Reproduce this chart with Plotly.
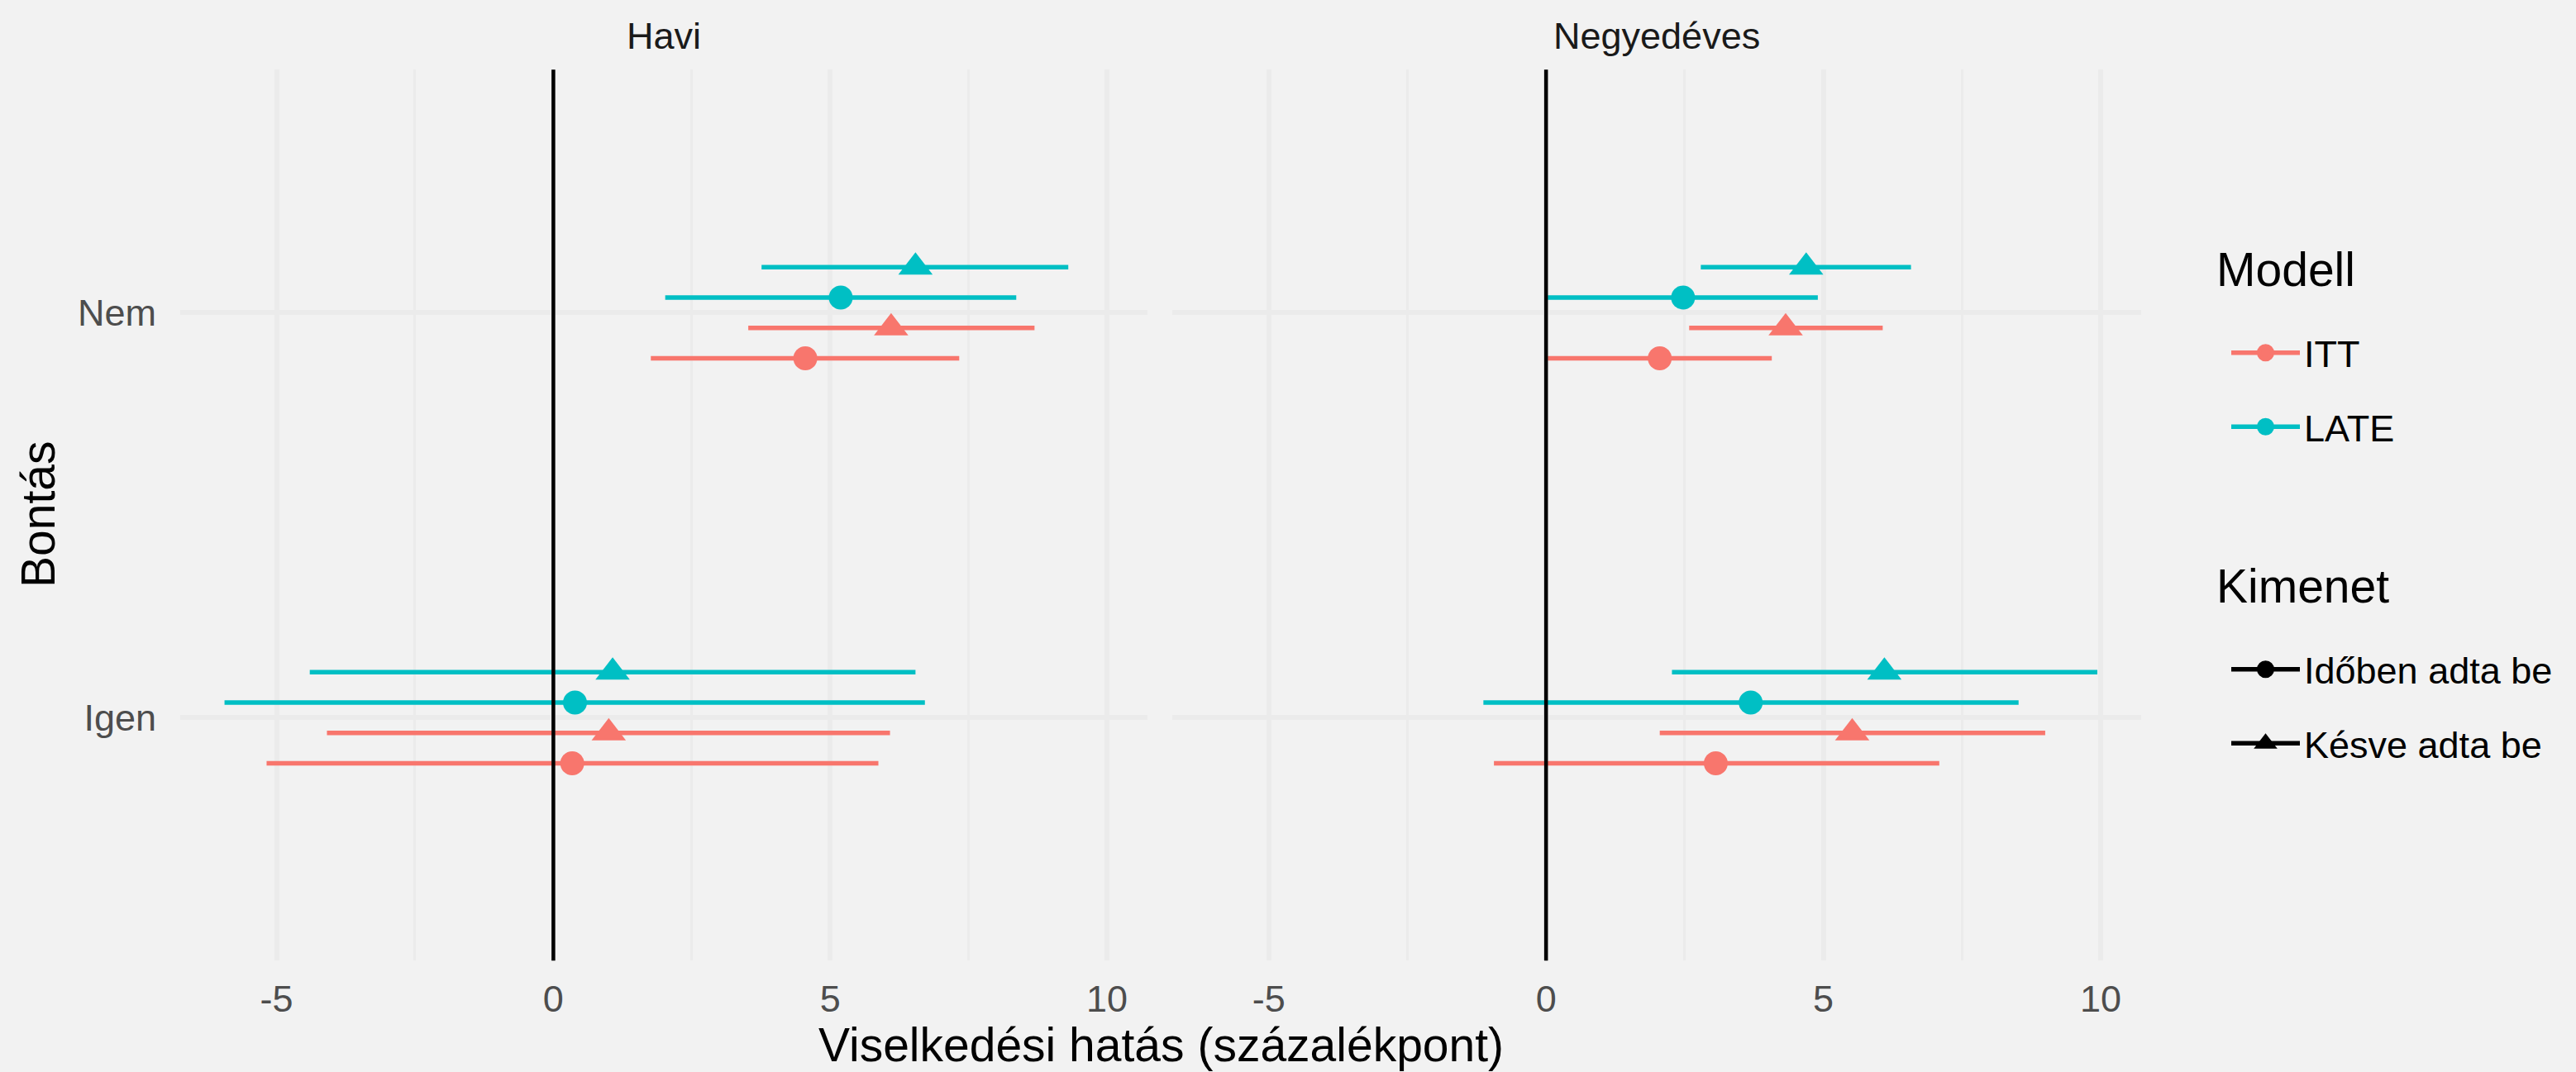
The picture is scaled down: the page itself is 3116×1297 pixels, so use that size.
import plotly.graph_objects as go

# ---------------- data ----------------
panels = ["Havi", "Negyedéves"]
groups = ["Igen", "Nem"]            # bottom -> top
models = ["ITT", "LATE"]
outcomes = ["Időben adta be", "Késve adta be"]

# values for groups (Igen, Nem)
havi_itt_ido_est = [0.34, 4.55]
havi_itt_ido_lo = [-5.18, 1.76]
havi_itt_ido_hi = [5.87, 7.33]
havi_itt_kes_est = [1.00, 6.10]
havi_itt_kes_lo = [-4.09, 3.52]
havi_itt_kes_hi = [6.08, 8.69]
havi_late_ido_est = [0.39, 5.19]
havi_late_ido_lo = [-5.94, 2.02]
havi_late_ido_hi = [6.71, 8.36]
havi_late_kes_est = [1.07, 6.54]
havi_late_kes_lo = [-4.40, 3.76]
havi_late_kes_hi = [6.54, 9.30]

negy_itt_ido_est = [3.06, 2.05]
negy_itt_ido_lo = [-0.94, 0.03]
negy_itt_ido_hi = [7.09, 4.07]
negy_itt_kes_est = [5.52, 4.32]
negy_itt_kes_lo = [2.05, 2.58]
negy_itt_kes_hi = [9.00, 6.07]
negy_late_ido_est = [3.69, 2.47]
negy_late_ido_lo = [-1.13, 0.03]
negy_late_ido_hi = [8.52, 4.90]
negy_late_kes_est = [6.10, 4.69]
negy_late_kes_lo = [2.27, 2.79]
negy_late_kes_hi = [9.94, 6.58]

x_ticks = [-5, 0, 5, 10]
x_tick_labels = ["-5", "0", "5", "10"]
ref_line = 0

data = {
    ("Havi", "ITT", "Időben adta be"): (havi_itt_ido_est, havi_itt_ido_lo, havi_itt_ido_hi),
    ("Havi", "ITT", "Késve adta be"): (havi_itt_kes_est, havi_itt_kes_lo, havi_itt_kes_hi),
    ("Havi", "LATE", "Időben adta be"): (havi_late_ido_est, havi_late_ido_lo, havi_late_ido_hi),
    ("Havi", "LATE", "Késve adta be"): (havi_late_kes_est, havi_late_kes_lo, havi_late_kes_hi),
    ("Negyedéves", "ITT", "Időben adta be"): (negy_itt_ido_est, negy_itt_ido_lo, negy_itt_ido_hi),
    ("Negyedéves", "ITT", "Késve adta be"): (negy_itt_kes_est, negy_itt_kes_lo, negy_itt_kes_hi),
    ("Negyedéves", "LATE", "Időben adta be"): (negy_late_ido_est, negy_late_ido_lo, negy_late_ido_hi),
    ("Negyedéves", "LATE", "Késve adta be"): (negy_late_kes_est, negy_late_kes_lo, negy_late_kes_hi),
}

# ---------------- style ----------------
FONT = "Arial, Liberation Sans, sans-serif"
BG = "#F2F2F2"
GRID = "#EBEBEB"
colors = {"ITT": "#F8766D", "LATE": "#00BFC4"}
symbols = {"Időben adta be": "circle", "Késve adta be": "triangle-up"}
msize = {"Időben adta be": 29, "Késve adta be": 36}
W, H = 3116, 1297

dodge_width = 0.3
combos = [(m, o) for m in models for o in outcomes]
n = len(combos)

fig = go.Figure()

for pi, panel in enumerate(panels):
    xa = "x" if pi == 0 else "x2"
    ya = "y" if pi == 0 else "y2"
    fig.add_shape(type="line", x0=ref_line, x1=ref_line, y0=0, y1=1,
                  xref=xa, yref=f"{ya} domain",
                  line=dict(color="black", width=4.5), layer="above")
    for k, (m, o) in enumerate(combos):
        est, lo, hi = data[(panel, m, o)]
        off = (k - (n - 1) / 2) * dodge_width / n
        ys = [gi + 1 + off for gi in range(len(groups))]
        fig.add_trace(go.Scatter(
            x=est, y=ys, xaxis=xa, yaxis=ya, mode="markers",
            marker=dict(color=colors[m], symbol=symbols[o], size=msize[o], line=dict(width=0)),
            error_x=dict(type="data", symmetric=False,
                         array=[h - e for h, e in zip(hi, est)],
                         arrayminus=[e - l for e, l in zip(est, lo)],
                         color=colors[m], thickness=5.5, width=0),
            showlegend=False, hoverinfo="skip",
        ))

# legend entries
for m in models:
    fig.add_trace(go.Scatter(
        x=[None], y=[None], mode="lines+markers", name=m, legend="legend",
        legendgroup=m,
        line=dict(color=colors[m], width=5.5),
        marker=dict(color=colors[m], symbol="circle", size=29,
                    line=dict(color=colors[m], width=5)),
    ))
for o in outcomes:
    fig.add_trace(go.Scatter(
        x=[None], y=[None], mode="lines+markers", name=o, legend="legend2",
        legendgroup=o,
        line=dict(color="black", width=5.5),
        marker=dict(color="black", symbol=symbols[o], size=msize[o],
                    line=dict(color="black", width=5)),
    ))

xr = [-6.74, 10.73]
yr = [0.4, 2.6]
ydom = [(H - 1162.3) / H, (H - 84.3) / H]
xdoms = [[218 / W, 1388 / W], [1418 / W, 2590 / W]]

axis_common = dict(
    range=xr, tickvals=x_ticks, ticktext=x_tick_labels,
    showgrid=True, gridcolor=GRID, gridwidth=5.5,
    minor=dict(dtick=2.5, tick0=0, showgrid=True, gridcolor=GRID, gridwidth=2.8),
    zeroline=False, showline=False,
    ticks="", ticklabelstandoff=16,
    tickfont=dict(family=FONT, size=45, color="#4D4D4D"),
    automargin=False, fixedrange=True,
)
yaxis_common = dict(
    range=yr, domain=ydom, tickvals=[1, 2],
    showgrid=True, gridcolor=GRID, gridwidth=5.5,
    zeroline=False, showline=False,
    ticks="outside", ticklen=19, tickcolor="rgba(0,0,0,0)",
    tickfont=dict(family=FONT, size=45, color="#4D4D4D"),
    automargin=False, fixedrange=True,
)

legend_common = dict(
    font=dict(family=FONT, size=45, color="black"),
    x=2694 / W, xanchor="left", yanchor="top",
    bgcolor="rgba(0,0,0,0)", itemwidth=83, tracegroupgap=28,
    traceorder="grouped",
)

fig.update_layout(
    width=W, height=H,
    margin=dict(l=0, r=0, t=0, b=0),
    paper_bgcolor=BG, plot_bgcolor=BG,
    font=dict(family=FONT, color="black"),
    xaxis=dict(domain=xdoms[0], anchor="y", **axis_common),
    xaxis2=dict(domain=xdoms[1], anchor="y2", **axis_common),
    yaxis=dict(anchor="x", ticktext=groups, **yaxis_common),
    yaxis2=dict(anchor="x2", showticklabels=False, **yaxis_common),
    legend=dict(y=(H - 391) / H, **legend_common),
    legend2=dict(y=(H - 774) / H, **legend_common),
    annotations=[
        dict(text=panels[0], x=sum(xdoms[0]) / 2, y=(H - 44) / H, xref="paper", yref="paper",
             showarrow=False, xanchor="center", yanchor="middle",
             font=dict(family=FONT, size=45, color="#1A1A1A")),
        dict(text=panels[1], x=sum(xdoms[1]) / 2, y=(H - 44) / H, xref="paper", yref="paper",
             showarrow=False, xanchor="center", yanchor="middle",
             font=dict(family=FONT, size=45, color="#1A1A1A")),
        dict(text="Viselkedési hatás (százalékpont)", x=(218 + 2590) / 2 / W, y=(H - 1264) / H,
             xref="paper", yref="paper", showarrow=False, xanchor="center", yanchor="middle",
             font=dict(family=FONT, size=57, color="black")),
        dict(text="Bontás", x=46 / W, y=(H - 623) / H, xref="paper", yref="paper",
             showarrow=False, textangle=-90, xanchor="center", yanchor="middle",
             font=dict(family=FONT, size=57, color="black")),
        dict(text="Modell", x=2679 / W, y=(H - 326) / H, xref="paper", yref="paper",
             showarrow=False, xanchor="left", yanchor="middle",
             font=dict(family=FONT, size=57, color="black")),
        dict(text="Kimenet", x=2679 / W, y=(H - 709) / H, xref="paper", yref="paper",
             showarrow=False, xanchor="left", yanchor="middle",
             font=dict(family=FONT, size=57, color="black")),
    ],
)

fig.write_html(
    "out.html",
    config={"displayModeBar": False},
    post_script="document.body.style.margin='0px';document.body.style.overflow='hidden';",
)
